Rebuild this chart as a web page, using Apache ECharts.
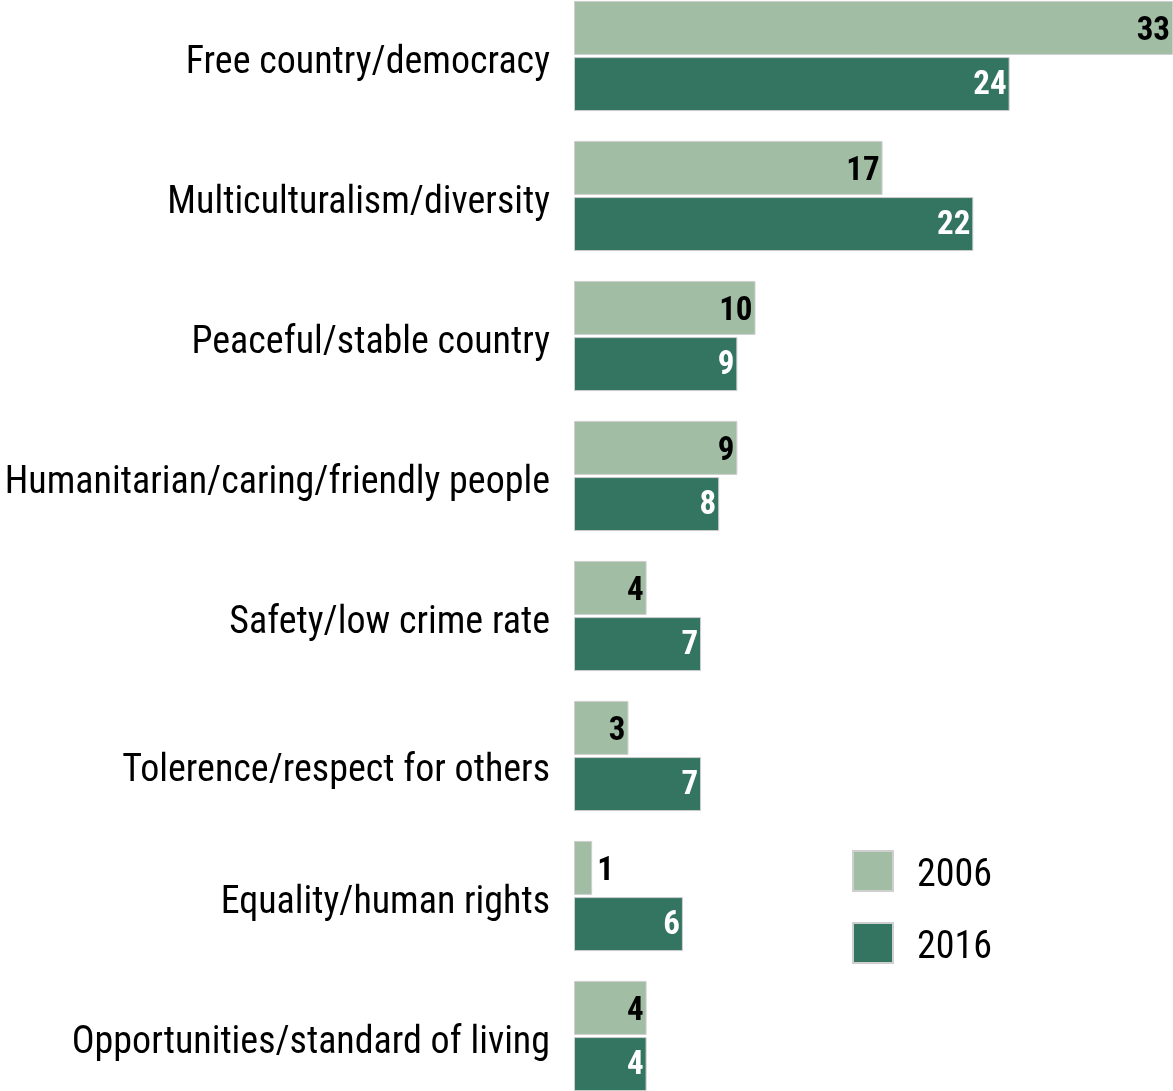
<!DOCTYPE html>
<html>
<head>
<meta charset="utf-8">
<script src="https://cdn.jsdelivr.net/npm/echarts@6/dist/echarts.min.js"></script>
<style>
  html, body { margin: 0; padding: 0; background: #fff; }
  #chart { width: 1173px; height: 1091px; }
</style>
</head>
<body>
<div id="chart"></div>
<script>
// Reasons given for what makes the country attractive, share of answers (%)
const categories = [
  'Free country/democracy',
  'Multiculturalism/diversity',
  'Peaceful/stable country',
  'Humanitarian/caring/friendly people',
  'Safety/low crime rate',
  'Tolerence/respect for others',
  'Equality/human rights',
  'Opportunities/standard of living'
];
const values2006 = [33, 17, 10, 9, 4, 3, 1, 4];
const values2016 = [24, 22, 9, 8, 7, 7, 6, 4];
const seriesNames = ['2006', '2016'];

const FONT = '"Roboto Condensed", "Liberation Sans Narrow", "DejaVu Sans Condensed", sans-serif';
const LIGHT = '#a1bea5';
const DARK = '#337560';

const chart = echarts.init(document.getElementById('chart'), null, { renderer: 'canvas' });

function labelFor(color, dy) {
  return {
    show: true,
    position: 'insideRight',
    distance: 3,
    offset: [0, dy],
    color: color,
    fontFamily: FONT,
    fontWeight: 'bold',
    fontSize: 33
  };
}

// small bars get their label just outside the bar end
function withLabels(values) {
  return values.map(v => v < 2
    ? { value: v, label: { position: 'right', distance: 5 } }
    : v);
}

const catText = { color: '#000', fontFamily: FONT, fontSize: 38 };

chart.setOption({
  animation: false,
  grid: { left: 574, width: 599, top: -14, height: 1120, outerBoundsMode: 'none', containLabel: false },
  legend: {
    orient: 'vertical',
    left: 852,
    top: 850,
    padding: 0,
    itemWidth: 40,
    itemHeight: 40,
    itemGap: 27,
    icon: 'rect',
    formatter: name => '{t|' + name + '}',
    textStyle: {
      padding: [0, 0, 0, 19],
      rich: { t: { fontFamily: FONT, fontSize: 38, color: '#000', padding: [10, 0, 0, 0] } }
    },
    data: seriesNames
  },
  xAxis: {
    type: 'value', min: 0, max: 33,
    show: false
  },
  yAxis: {
    type: 'category',
    inverse: true,
    data: categories,
    axisLine: { show: false },
    axisTick: { show: false },
    axisLabel: {
      margin: 24,
      // the sixth label sits a little lower than the rest
      formatter: (value, index) => index === 5 ? '{low|' + value + '}' : '{n|' + value + '}',
      rich: {
        n: Object.assign({ padding: [14, 0, 0, 0] }, catText),
        low: Object.assign({ padding: [30, 0, 0, 0] }, catText)
      }
    }
  },
  series: [
    {
      name: seriesNames[0],
      type: 'bar',
      data: withLabels(values2006),
      barWidth: 54,
      barGap: '4%',
      itemStyle: { color: LIGHT, borderColor: '#cfcfcf', borderWidth: 1 },
      label: labelFor('#000', 4)
    },
    {
      name: seriesNames[1],
      type: 'bar',
      data: withLabels(values2016),
      barWidth: 54,
      barGap: '4%',
      itemStyle: { color: DARK, borderColor: '#cfcfcf', borderWidth: 1 },
      label: labelFor('#fff', 2)
    }
  ]
});
</script>
</body>
</html>
